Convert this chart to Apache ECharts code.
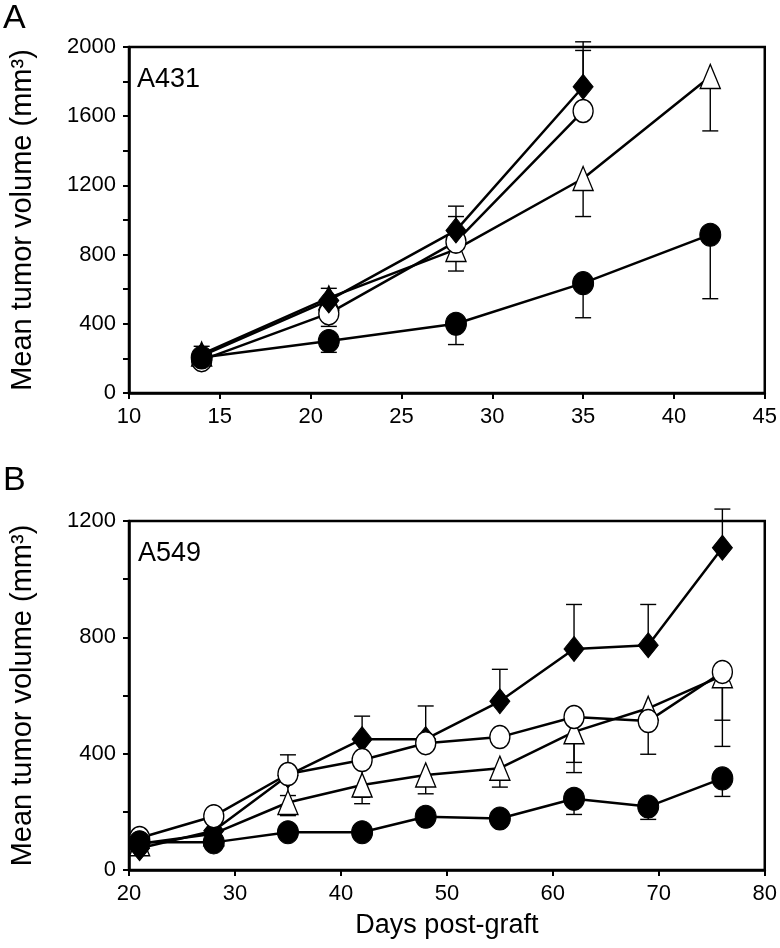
<!DOCTYPE html>
<html>
<head>
<meta charset="utf-8">
<script src="https://cdn.jsdelivr.net/npm/echarts@6/dist/echarts.min.js"></script>
<style>
html,body{margin:0;padding:0;background:#fff;}
#chart{width:780px;height:948px;}
</style>
</head>
<body>
<div id="chart"></div>
<script>
// ---------- Panel A : A431 ----------
const daysA = [14, 21, 28, 35, 42];
const a431Diamond      = [215, 535, 940, 1770];
const a431OpenCircle   = [190, 460, 875, 1630];
const a431Triangle     = [225, 550, 830, 1240, 1830];
const a431FilledCircle = [205, 300, 400, 635, 915];
// error bar end points (null = none visible)
const a431DiamondErr   = [270, 605, 1080, 2030];
const a431CircleErr    = [null, 385, 1020, 1980];
const a431TriangleErr  = [null, null, 705, 1020, 1515];
const a431FilledErr    = [null, 235, 280, 435, 545];

// ---------- Panel B : A549 ----------
const daysB = [21, 28, 35, 42, 48, 55, 62, 69, 76];
const a549Diamond      = [75, 135, 325, 450, 450, 580, 760, 773, 1108];
const a549OpenCircle   = [110, 185, 330, 378, 436, 457, 526, 512, 681];
const a549Triangle     = [90, 125, 232, 292, 327, 350, 475, 556, 668];
const a549FilledCircle = [95, 95, 130, 130, 183, 177, 245, 218, 315];
const a549DiamondErr   = [null, null, 396, 529, 564, 690, 913, 913, 1241];
const a549CircleErr    = [null, null, 256, 250, null, null, 370, 398, 425];
const a549TriangleErr  = [null, null, 187, 228, 262, 285, 335, null, 515];
const a549FilledErr    = [null, null, null, null, null, null, 191, 174, 253];

// tick settings
const xTicksA = {min: 10, max: 45, interval: 5};
const yTicksA = {min: 0, max: 2000, interval: 400};
const xTicksB = {min: 20, max: 80, interval: 10};
const yTicksB = {min: 0, max: 1200, interval: 400};

const FONT = "'Liberation Sans', Arial, Helvetica, sans-serif";

function pairs(days, vals) { return vals.map((v, i) => [days[i], v]); }
function errData(days, vals, ends) {
  const out = [];
  ends.forEach((e, i) => { if (e != null && vals[i] != null) out.push([days[i], vals[i], e]); });
  return out;
}
function errRender(params, api) {
  const p0 = api.coord([api.value(0), api.value(1)]);
  const p1 = api.coord([api.value(0), api.value(2)]);
  const hw = 8;
  const st = {stroke: '#000', lineWidth: 1.4};
  return {type: 'group', children: [
    {type: 'line', shape: {x1: p0[0], y1: p0[1], x2: p1[0], y2: p1[1]}, style: st},
    {type: 'line', shape: {x1: p1[0] - hw, y1: p1[1], x2: p1[0] + hw, y2: p1[1]}, style: st}
  ]};
}

const markerStyles = {
  diamond: {symbol: 'diamond', symbolSize: [20, 25], itemStyle: {color: '#000', borderColor: '#000', borderWidth: 1}},
  circle:  {symbol: 'circle', symbolSize: [20, 23], itemStyle: {color: '#fff', borderColor: '#000', borderWidth: 1.4}},
  triangle:{symbol: 'triangle', symbolSize: [20, 24], itemStyle: {color: '#fff', borderColor: '#000', borderWidth: 1.4}},
  filled:  {symbol: 'circle', symbolSize: [21, 23], itemStyle: {color: '#000', borderColor: '#000', borderWidth: 1}}
};

function lineSeries(idx, days, vals, kind, z) {
  const m = markerStyles[kind];
  return {
    type: 'line', xAxisIndex: idx, yAxisIndex: idx,
    data: pairs(days, vals),
    lineStyle: {color: '#000', width: 2.5},
    showSymbol: true, showAllSymbol: true, clip: false, z: z,
    animation: false, silent: true,
    symbol: m.symbol, symbolSize: m.symbolSize, itemStyle: m.itemStyle
  };
}
function errSeries(idx, days, vals, ends) {
  return {type: 'custom', xAxisIndex: idx, yAxisIndex: idx, renderItem: errRender,
    data: errData(days, vals, ends), encode: {x: 0, y: [1, 2]}, clip: false, z: 1, animation: false, silent: true};
}

function xAxisCfg(idx, t, name) {
  return {
    type: 'value', gridIndex: idx, min: t.min, max: t.max, interval: t.interval,
    name: name, nameLocation: 'middle', nameGap: 42,
    nameTextStyle: {fontFamily: FONT, fontSize: 27, color: '#000'},
    axisLine: {show: true, onZero: false, lineStyle: {color: '#000', width: 2.5}},
    axisTick: {show: true, inside: false, length: 6, lineStyle: {color: '#000', width: 2}},
    axisLabel: {fontFamily: FONT, fontSize: 22, color: '#000', margin: 13, formatter: v => String(v)},
    splitLine: {show: false}
  };
}
function yAxisCfg(idx, t) {
  return {
    type: 'value', gridIndex: idx, min: t.min, max: t.max, interval: t.interval,
    name: 'Mean tumor volume (mm³)', nameLocation: 'middle', nameGap: 92,
    nameTextStyle: {fontFamily: FONT, fontSize: 29, color: '#000'},
    axisLine: {show: true, onZero: false, lineStyle: {color: '#000', width: 2.5}},
    axisTick: {show: true, inside: false, length: 6, lineStyle: {color: '#000', width: 2}},
    minorTick: {show: true, splitNumber: 2, length: 6, lineStyle: {color: '#000', width: 2}},
    axisLabel: {fontFamily: FONT, fontSize: 22, color: '#000', margin: 13, formatter: v => String(v)},
    splitLine: {show: false}, minorSplitLine: {show: false}
  };
}

const chart = echarts.init(document.getElementById('chart'), null, {renderer: 'canvas'});
chart.setOption({
  backgroundColor: '#fff',
  animation: false,
  grid: [
    {left: 122, top: 47, width: 646, height: 346, show: true, borderColor: '#000', borderWidth: 2.5, backgroundColor: 'transparent'},
    {left: 122, top: 521, width: 646, height: 349, show: true, borderColor: '#000', borderWidth: 2.5, backgroundColor: 'transparent'}
  ],
  xAxis: [xAxisCfg(0, xTicksA, ''), xAxisCfg(1, xTicksB, 'Days post-graft')],
  yAxis: [yAxisCfg(0, yTicksA), yAxisCfg(1, yTicksB)],
  graphic: [
    {type: 'text', left: 3, top: 2, style: {text: 'A', fontFamily: FONT, fontSize: 34, fill: '#000'}},
    {type: 'text', left: 3, top: 464, style: {text: 'B', fontFamily: FONT, fontSize: 34, fill: '#000'}},
    {type: 'text', left: 137, top: 66, style: {text: 'A431', fontFamily: FONT, fontSize: 27, fill: '#000'}},
    {type: 'text', left: 138, top: 540, style: {text: 'A549', fontFamily: FONT, fontSize: 27, fill: '#000'}}
  ],
  series: [
    errSeries(0, daysA, a431Diamond, a431DiamondErr),
    errSeries(0, daysA, a431OpenCircle, a431CircleErr),
    errSeries(0, daysA, a431Triangle, a431TriangleErr),
    errSeries(0, daysA, a431FilledCircle, a431FilledErr),
    lineSeries(0, daysA, a431Triangle, 'triangle', 3),
    lineSeries(0, daysA, a431OpenCircle, 'circle', 4),
    lineSeries(0, daysA, a431Diamond, 'diamond', 5),
    lineSeries(0, daysA, a431FilledCircle, 'filled', 6),
    errSeries(1, daysB, a549Diamond, a549DiamondErr),
    errSeries(1, daysB, a549OpenCircle, a549CircleErr),
    errSeries(1, daysB, a549Triangle, a549TriangleErr),
    errSeries(1, daysB, a549FilledCircle, a549FilledErr),
    lineSeries(1, daysB, a549Triangle, 'triangle', 3),
    lineSeries(1, daysB, a549Diamond, 'diamond', 4),
    lineSeries(1, daysB, a549OpenCircle, 'circle', 5),
    lineSeries(1, daysB, a549FilledCircle, 'filled', 6)
  ]
});
</script>
</body>
</html>
